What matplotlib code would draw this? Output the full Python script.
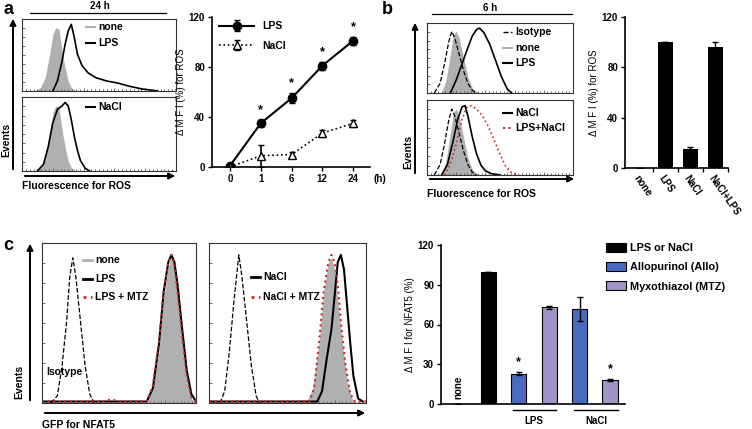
import numpy as np
import matplotlib
matplotlib.use('Agg')
import matplotlib.pyplot as plt
from matplotlib.ticker import MultipleLocator

plt.rcParams['font.family'] = ['Liberation Sans', 'DejaVu Sans']
plt.rcParams['font.weight'] = 'bold'
plt.rcParams['font.size'] = 7

W, H = 752, 429
GRAY = '#b0b0b0'
RED = '#cc2a2a'
BLUE = '#4a6cc0'
PURPLE = '#a093c6'

# ---- panel a: time course ----
a_times = ['0', '1', '6', '12', '24']
a_lps = [1, 35, 55, 81, 101]
a_lps_err = [1, 3, 4, 3, 3]
a_nacl = [0, 9, 10, 27, 35]
a_nacl_err = [1, 9, 2, 3, 3]

# ---- panel b: bars ----
b_cats = ['none', 'LPS', 'NaCl', 'NaCl+LPS']
b_vals = [0, 100, 15, 96]
b_err = [0, 0, 2, 4]

# ---- panel c: bars ----
c_vals = [0, 100, 23, 73, 72, 18]
c_err = [0, 0, 1, 1, 9, 0.5]
c_cols = ['k', 'k', BLUE, PURPLE, BLUE, PURPLE]
c_legend = ['LPS or NaCl', 'Allopurinol (Allo)', 'Myxothiazol (MTZ)']

# ---- histograms (x in axis fraction, y normalised) ----
a_none_x = [0.08, 0.12, 0.15, 0.18, 0.20, 0.22, 0.24, 0.26, 0.28, 0.30, 0.32, 0.35]
a_none_y = [0, 0.05, 0.2, 0.55, 0.85, 0.95, 0.93, 0.6, 0.35, 0.15, 0.05, 0]
a_lps_x = [0.20, 0.23, 0.26, 0.28, 0.30, 0.32, 0.34, 0.36, 0.39, 0.43, 0.48, 0.55, 0.62, 0.70, 0.78, 0.85, 0.88]
a_lps_y = [0, 0.15, 0.45, 0.7, 0.9, 1.0, 0.8, 0.55, 0.38, 0.27, 0.2, 0.15, 0.12, 0.07, 0.03, 0.01, 0]
a_nacl_x = [0.10, 0.14, 0.17, 0.20, 0.23, 0.26, 0.28, 0.30, 0.32, 0.34, 0.36, 0.38, 0.41, 0.44]
a_nacl_y = [0, 0.1, 0.35, 0.7, 0.9, 0.95, 1.0, 0.95, 0.75, 0.5, 0.3, 0.15, 0.04, 0]

b_iso_x = [0.05, 0.09, 0.12, 0.15, 0.17, 0.19, 0.22, 0.25, 0.28, 0.31, 0.34]
b_iso_y = [0, 0.15, 0.45, 0.8, 0.95, 0.85, 0.6, 0.35, 0.15, 0.04, 0]
b_none_x = [0.10, 0.13, 0.16, 0.18, 0.20, 0.22, 0.25, 0.28, 0.31, 0.35]
b_none_y = [0, 0.2, 0.6, 0.9, 0.95, 0.85, 0.55, 0.25, 0.08, 0]
b_lps_x = [0.16, 0.20, 0.24, 0.28, 0.31, 0.34, 0.36, 0.39, 0.43, 0.47, 0.51, 0.55, 0.58]
b_lps_y = [0, 0.2, 0.45, 0.7, 0.88, 0.98, 1.0, 0.93, 0.75, 0.5, 0.25, 0.06, 0]
b_nacl_x = [0.10, 0.14, 0.18, 0.21, 0.24, 0.26, 0.28, 0.31, 0.34, 0.37, 0.40, 0.44, 0.50]
b_nacl_y = [0, 0.15, 0.5, 0.8, 0.98, 1.0, 0.85, 0.55, 0.3, 0.14, 0.06, 0.02, 0]
b_both_x = [0.12, 0.16, 0.20, 0.24, 0.27, 0.30, 0.34, 0.38, 0.42, 0.46, 0.50, 0.54, 0.58, 0.62]
b_both_y = [0, 0.15, 0.45, 0.8, 0.97, 1.0, 0.95, 0.85, 0.7, 0.5, 0.3, 0.12, 0.03, 0]

c1_iso_x = [0.06, 0.10, 0.13, 0.16, 0.18, 0.20, 0.22, 0.25, 0.28, 0.31, 0.34]
c1_iso_y = [0, 0.05, 0.25, 0.55, 0.85, 0.98, 0.85, 0.55, 0.25, 0.06, 0]
c1_none_x = [0.68, 0.72, 0.76, 0.79, 0.82, 0.84, 0.86, 0.88, 0.91, 0.94, 0.97, 1.0]
c1_none_y = [0, 0.1, 0.35, 0.7, 0.92, 0.98, 0.92, 0.7, 0.4, 0.15, 0.03, 0]
c1_lps_x = [0.0, 0.68, 0.72, 0.76, 0.79, 0.82, 0.84, 0.86, 0.88, 0.91, 0.94, 0.97, 1.0]
c1_lps_y = [0.01, 0.01, 0.1, 0.4, 0.75, 0.95, 1.0, 0.95, 0.8, 0.5, 0.22, 0.06, 0.01]
c1_mtz_x = [0.0, 0.40, 0.45, 0.50, 0.68, 0.72, 0.76, 0.79, 0.82, 0.84, 0.86, 0.88, 0.91, 0.94, 0.97, 1.0]
c1_mtz_y = [0.01, 0.01, 0.025, 0.01, 0.01, 0.12, 0.42, 0.75, 0.95, 1.0, 0.93, 0.75, 0.45, 0.18, 0.04, 0.01]

c2_iso_x = [0.07, 0.10, 0.13, 0.16, 0.18, 0.19, 0.21, 0.24, 0.27, 0.30, 0.32]
c2_iso_y = [0, 0.08, 0.35, 0.7, 0.9, 1.0, 0.85, 0.55, 0.25, 0.05, 0]
c2_none_x = [0.0, 0.62, 0.66, 0.70, 0.73, 0.76, 0.78, 0.80, 0.82, 0.85, 0.88, 0.91, 0.94]
c2_none_y = [0.005, 0.005, 0.1, 0.4, 0.75, 0.95, 0.98, 0.9, 0.7, 0.4, 0.15, 0.03, 0]
c2_nacl_x = [0.0, 0.69, 0.72, 0.75, 0.78, 0.80, 0.82, 0.84, 0.86, 0.88, 0.90, 0.92, 0.95, 0.98]
c2_nacl_y = [0.01, 0.01, 0.08, 0.3, 0.5, 0.72, 0.95, 1.0, 0.9, 0.65, 0.4, 0.18, 0.03, 0.01]
c2_mtz_x = [0.0, 0.64, 0.67, 0.70, 0.73, 0.76, 0.78, 0.80, 0.82, 0.84, 0.87, 0.90, 0.93, 1.0]
c2_mtz_y = [0.01, 0.01, 0.1, 0.4, 0.75, 0.95, 1.0, 0.95, 0.8, 0.55, 0.25, 0.06, 0.01, 0.01]


fig = plt.figure(figsize=(W / 100, H / 100), dpi=100)


def px_axes(l, t, r, b):
    return fig.add_axes([l / W, 1 - b / H, (r - l) / W, (b - t) / H])


def hist_box(l, t, r, b):
    ax = px_axes(l, t, r, b)
    ax.set_xlim(0, 1)
    ax.set_ylim(0, 1.08)
    for s in ax.spines.values():
        s.set_linewidth(0.8)
        s.set_color('#333333')
    ax.xaxis.set_major_locator(MultipleLocator(0.2))
    ax.xaxis.set_minor_locator(MultipleLocator(0.025))
    ax.yaxis.set_major_locator(MultipleLocator(0.135))
    ax.tick_params(which='both', direction='in', labelbottom=False, labelleft=False,
                   length=2.5, width=0.6, color='#555555')
    ax.tick_params(which='minor', length=1.5)
    return ax


def fill(ax, x, y):
    ax.fill_between(x, y, color=GRAY, lw=0)


def line(ax, x, y, style='-', color='k', lw=1.2):
    ax.plot(x, y, style, color=color, lw=lw)


# panel a histograms
ax = hist_box(22, 19, 176, 91)
fill(ax, a_none_x, a_none_y)
line(ax, a_lps_x, a_lps_y)
ax = hist_box(22, 97, 176, 171)
fill(ax, a_none_x, a_none_y)
line(ax, a_nacl_x, a_nacl_y)

# panel b histograms
ax = hist_box(427, 23, 573, 93)
fill(ax, b_none_x, b_none_y)
line(ax, b_iso_x, b_iso_y, '--', lw=0.9)
line(ax, b_lps_x, b_lps_y)
ax = hist_box(427, 100, 573, 175)
fill(ax, b_none_x, b_none_y)
line(ax, b_iso_x, b_iso_y, '--', lw=0.9)
line(ax, b_both_x, b_both_y, ':', RED, 1.2)
line(ax, b_nacl_x, b_nacl_y)

# panel c histograms
ax = hist_box(42, 243, 196, 403)
fill(ax, c1_none_x, c1_none_y)
line(ax, c1_iso_x, c1_iso_y, '--', lw=0.9)
line(ax, c1_lps_x, c1_lps_y, lw=1.5)
line(ax, c1_mtz_x, c1_mtz_y, ':', RED, 1.5)
ax = hist_box(209, 243, 366, 403)
fill(ax, c2_none_x, c2_none_y)
line(ax, c2_iso_x, c2_iso_y, '--', lw=0.9)
line(ax, c2_nacl_x, c2_nacl_y, lw=1.5)
line(ax, c2_mtz_x, c2_mtz_y, ':', RED, 1.5)


def simple_axes(ax):
    ax.spines['top'].set_visible(False)
    ax.spines['right'].set_visible(False)
    for s in ('left', 'bottom'):
        ax.spines[s].set_linewidth(1.2)
    ax.tick_params(direction='out', length=3, width=1, labelsize=7, pad=2)


# panel a line chart
ax = px_axes(212, 17, 370, 167)
simple_axes(ax)
xs = np.arange(len(a_times))
ax.errorbar(xs, a_lps, yerr=a_lps_err, fmt='-o', color='k', ms=6, lw=1.5,
            capsize=2, label='LPS')
ax.errorbar(xs, a_nacl, yerr=a_nacl_err, fmt=':^', color='k', mfc='white', ms=6,
            lw=1.2, capsize=2, label='NaCl')
for x, v, e in zip(xs[1:], a_lps[1:], a_lps_err[1:]):
    ax.text(x, v + e + 3, '*', ha='center', va='bottom', fontsize=9)
ax.set_xticks(xs)
ax.set_xticklabels(a_times)
ax.set_xlim(-0.585, 4.55)
ax.set_ylim(0, 120)
ax.set_yticks([0, 40, 80, 120])
ax.set_ylabel(u'\u0394 M F I (%) for ROS', fontsize=7, labelpad=2)
ax.text(1.02, -0.08, '(h)', transform=ax.transAxes, fontsize=7, va='center')
ax.legend(loc='upper left', bbox_to_anchor=(0.02, 1.0), frameon=False,
          handlelength=3.3, fontsize=7.5, labelspacing=0.9, borderaxespad=0)

# panel b bars
ax = px_axes(625, 17, 728, 168)
simple_axes(ax)
bx = np.arange(len(b_cats))
ax.bar(bx, b_vals, width=0.6, color='k', yerr=b_err, capsize=2,
       error_kw=dict(lw=1, capthick=1))
ax.set_xlim(-0.6, 3.52)
ax.set_ylim(0, 120)
ax.set_yticks([0, 40, 80, 120])
ax.set_xticks(bx)
ax.set_xticklabels(b_cats, rotation=-55, ha='left', rotation_mode='anchor', fontsize=7)
ax.tick_params(axis='x', length=0, pad=4)
ax.set_xticks(bx + 0.5, minor=True)
ax.tick_params(axis='x', which='minor', length=3, width=1)
ax.set_ylabel(u'\u0394 M F I (%) for ROS', fontsize=7, labelpad=2)

# panel c bars
ax = px_axes(441, 245, 625, 404)
simple_axes(ax)
cx = np.arange(len(c_vals))
bars = ax.bar(cx, c_vals, width=0.5, color=c_cols, edgecolor='k', lw=0.8,
              yerr=c_err, capsize=2, error_kw=dict(lw=1, capthick=1))
ax.set_xlim(-0.56, 5.49)
ax.set_ylim(0, 120)
ax.set_yticks([0, 30, 60, 90, 120])
ax.set_xticks([])
ax.set_ylabel(u'\u0394 M F I for NFAT5 (%)', fontsize=7, labelpad=2)
ax.text(0, 4, 'none', rotation=90, ha='center', va='bottom', fontsize=7)
for i in (2, 5):
    ax.text(cx[i], c_vals[i] + c_err[i] + 3, '*', ha='center', va='bottom', fontsize=9)
tr = ax.get_xaxis_transform()
ax.plot([1.82, 3.22], [-0.035, -0.035], color='k', lw=1, transform=tr, clip_on=False)
ax.plot([3.82, 5.27], [-0.035, -0.035], color='k', lw=1, transform=tr, clip_on=False)
ax.text(2.5, -0.11, 'LPS', transform=tr, ha='center', va='center', fontsize=7)
ax.text(4.55, -0.11, 'NaCl', transform=tr, ha='center', va='center', fontsize=7)
ax.legend([bars[1], bars[2], bars[3]], c_legend, loc='upper left',
          bbox_to_anchor=(606 / W, 1 - 243 / H), bbox_transform=fig.transFigure,
          frameon=False, fontsize=7.8, handlelength=1.85, handleheight=0.95,
          labelspacing=0.8, borderaxespad=0, borderpad=0, handletextpad=0.4)

# overlay: panel letters, arrows, titles, inline legends
ov = fig.add_axes([0, 0, 1, 1], zorder=10)
ov.set_xlim(0, W)
ov.set_ylim(H, 0)
ov.axis('off')
ov.patch.set_alpha(0)

arrow = dict(arrowstyle='-|>', lw=1.4, color='k', mutation_scale=9)
for x0, y0, x1, y1 in ((13, 172, 13, 16), (22, 176, 178, 176),
                       (415, 176, 415, 20), (427, 179, 577, 179),
                       (30, 403, 30, 241), (42, 413, 368, 413)):
    ov.annotate('', xy=(x1, y1), xytext=(x0, y0), arrowprops=arrow)

ov.text(3, 9, 'a', fontsize=13, va='center')
ov.text(382, 10, 'b', fontsize=13, va='center')
ov.text(3, 246, 'c', fontsize=13, va='center')

ov.text(100, 6, '24 h', fontsize=7, ha='center', va='center')
ov.plot([30, 166], [13, 13], 'k', lw=0.9)
ov.text(490, 8, '6 h', fontsize=7, ha='center', va='center')
ov.plot([432, 572], [14, 14], 'k', lw=0.9)

ov.text(6, 140, 'Events', rotation=90, fontsize=7.5, ha='center', va='center')
ov.text(408, 152, 'Events', rotation=90, fontsize=7.5, ha='center', va='center')
ov.text(19, 382, 'Events', rotation=90, fontsize=7.5, ha='center', va='center')
ov.text(22, 186, 'Fluorescence for ROS', fontsize=7.5, va='center')
ov.text(427, 194, 'Fluorescence for ROS', fontsize=7.5, va='center')
ov.text(42, 425, 'GFP for NFAT5', fontsize=7.5, va='center')
ov.text(46, 372, 'Isotype', fontsize=7.5, va='center')


def key(x, y, label, style='-', color='k', lw=1.5):
    ov.plot([x, x + 9], [y, y], style, color=color, lw=lw)
    ov.text(x + 12, y, label, fontsize=7.5, va='center')


key(86, 27, 'none', color=GRAY)
key(86, 43, 'LPS')
key(86, 107, 'NaCl')
key(503, 32, 'Isotype', '--', lw=1)
key(503, 48, 'none', color=GRAY)
key(503, 63, 'LPS')
key(503, 113, 'NaCl')
key(503, 128, 'LPS+NaCl', ':', RED)
key(83, 260, 'none', color=GRAY, lw=2)
key(83, 279, 'LPS', lw=2)
key(83, 297, 'LPS + MTZ', ':', RED, 2)
key(251, 277, 'NaCl', lw=2)
key(251, 297, 'NaCl + MTZ', ':', RED, 2)

fig.savefig('out.png', dpi=100)
